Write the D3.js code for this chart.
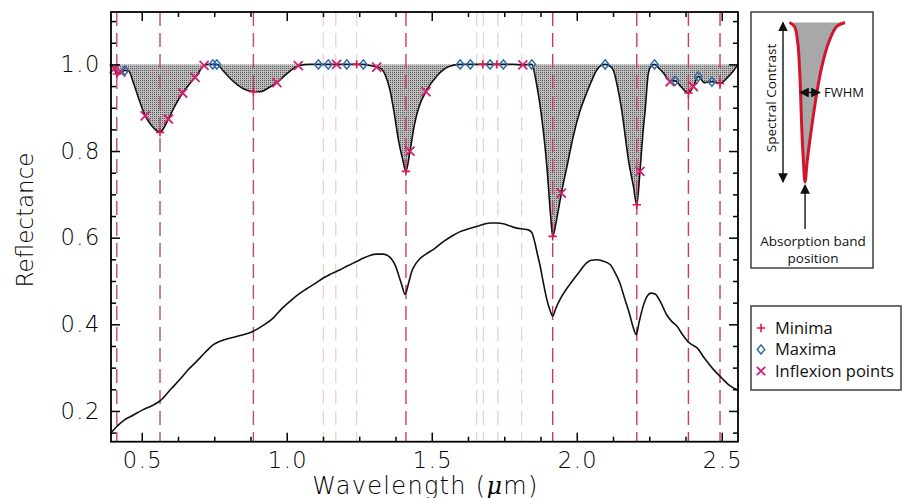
<!DOCTYPE html>
<html>
<head>
<meta charset="utf-8">
<script src="https://cdn.jsdelivr.net/npm/d3@7"></script>
<style>
  body { margin: 0; background: #fff; }
  svg { display: block; }
</style>
</head>
<body>
<svg id="chart" width="919" height="498"></svg>
<script>
// continuum removed spectrum (top curve)
const crWave = [0.394, 0.405, 0.414, 0.428, 0.442, 0.455, 0.47, 0.49, 0.512, 0.535, 0.55, 0.563, 0.575, 0.592, 0.615, 0.641, 0.665, 0.684, 0.70, 0.715, 0.73, 0.745, 0.759, 0.78, 0.80, 0.83, 0.86, 0.885, 0.91, 0.935, 0.966, 1.00, 1.04, 1.08, 1.109, 1.143, 1.172, 1.207, 1.241, 1.264, 1.29, 1.31, 1.325, 1.34, 1.356, 1.37, 1.385, 1.40, 1.411, 1.425, 1.44, 1.455, 1.48, 1.52, 1.56, 1.598, 1.633, 1.676, 1.701, 1.724, 1.747, 1.78, 1.814, 1.845, 1.86, 1.874, 1.897, 1.91, 1.917, 1.93, 1.947, 1.968, 1.988, 2.01, 2.034, 2.05, 2.069, 2.085, 2.098, 2.112, 2.126, 2.14, 2.155, 2.168, 2.178, 2.195, 2.207, 2.218, 2.228, 2.236, 2.247, 2.258, 2.268, 2.285, 2.299, 2.322, 2.339, 2.36, 2.385, 2.402, 2.419, 2.44, 2.466, 2.494, 2.52, 2.54, 2.556];
const crValue = [1.0, 0.99, 0.978, 0.982, 0.986, 0.985, 0.96, 0.92, 0.881, 0.858, 0.848, 0.843, 0.852, 0.874, 0.905, 0.934, 0.955, 0.970, 0.985, 0.998, 1.0, 1.0, 1.0, 0.986, 0.971, 0.953, 0.941, 0.937, 0.937, 0.945, 0.958, 0.978, 0.997, 1.0, 1.0, 1.0, 1.0, 1.0, 1.0, 1.0, 0.997, 0.994, 0.99, 0.975, 0.941, 0.89, 0.826, 0.78, 0.753, 0.80, 0.86, 0.90, 0.937, 0.975, 0.995, 1.0, 1.0, 1.0, 1.0, 1.0, 1.0, 1.0, 0.999, 1.0, 0.96, 0.903, 0.764, 0.65, 0.603, 0.64, 0.703, 0.77, 0.834, 0.89, 0.934, 0.96, 0.987, 0.998, 1.0, 0.997, 0.987, 0.95, 0.895, 0.83, 0.78, 0.72, 0.676, 0.753, 0.84, 0.895, 0.98, 0.997, 1.0, 0.99, 0.98, 0.962, 0.962, 0.948, 0.934, 0.949, 0.972, 0.958, 0.960, 0.956, 0.97, 0.985, 1.0];

// measured reflectance (lower curve)
const rawWave = [0.394, 0.42, 0.442, 0.47, 0.505, 0.535, 0.563, 0.60, 0.632, 0.66, 0.69, 0.72, 0.747, 0.77, 0.793, 0.839, 0.885, 0.92, 0.954, 0.98, 1.011, 1.04, 1.069, 1.10, 1.126, 1.155, 1.184, 1.21, 1.241, 1.265, 1.287, 1.31, 1.333, 1.35, 1.362, 1.375, 1.385, 1.397, 1.408, 1.42, 1.431, 1.445, 1.46, 1.48, 1.506, 1.54, 1.57, 1.598, 1.625, 1.655, 1.68, 1.701, 1.725, 1.747, 1.77, 1.793, 1.815, 1.833, 1.845, 1.855, 1.865, 1.874, 1.885, 1.897, 1.908, 1.917, 1.928, 1.942, 1.965, 1.988, 2.01, 2.034, 2.05, 2.069, 2.09, 2.115, 2.13, 2.149, 2.165, 2.184, 2.195, 2.205, 2.215, 2.229, 2.242, 2.256, 2.27, 2.29, 2.31, 2.33, 2.345, 2.365, 2.385, 2.40, 2.414, 2.44, 2.471, 2.50, 2.523, 2.556];
const rawValue = [0.150, 0.168, 0.180, 0.190, 0.203, 0.212, 0.223, 0.250, 0.273, 0.295, 0.315, 0.336, 0.353, 0.361, 0.366, 0.374, 0.384, 0.398, 0.415, 0.434, 0.453, 0.469, 0.482, 0.495, 0.507, 0.517, 0.526, 0.535, 0.545, 0.553, 0.559, 0.562, 0.562, 0.558, 0.550, 0.535, 0.515, 0.490, 0.469, 0.495, 0.522, 0.540, 0.552, 0.562, 0.573, 0.591, 0.604, 0.614, 0.620, 0.626, 0.631, 0.634, 0.634, 0.632, 0.627, 0.622, 0.620, 0.618, 0.612, 0.590, 0.560, 0.534, 0.495, 0.457, 0.432, 0.419, 0.437, 0.457, 0.482, 0.503, 0.522, 0.542, 0.548, 0.549, 0.546, 0.538, 0.522, 0.495, 0.460, 0.419, 0.392, 0.376, 0.405, 0.442, 0.464, 0.472, 0.470, 0.450, 0.422, 0.405, 0.396, 0.376, 0.359, 0.352, 0.346, 0.322, 0.296, 0.276, 0.261, 0.248];

// detected features on the continuum removed curve
const minimaWave = [0.414, 0.563, 0.885, 1.241, 1.411, 1.676, 1.724, 1.917, 2.207, 2.385, 2.494];
const minimaValue = [0.978, 0.843, 0.937, 1.0, 0.753, 1.0, 1.0, 0.603, 0.676, 0.934, 0.956];
const maximaWave = [0.442, 0.745, 0.759, 1.109, 1.143, 1.207, 1.264, 1.598, 1.633, 1.701, 1.747, 1.845, 2.098, 2.268, 2.339, 2.419, 2.466];
const maximaValue = [0.986, 1.0, 1.0, 1.0, 1.0, 1.0, 1.0, 1.0, 1.0, 1.0, 1.0, 1.0, 1.0, 1.0, 0.962, 0.972, 0.960];
const inflexWave = [0.405, 0.428, 0.512, 0.592, 0.641, 0.684, 0.715, 0.966, 1.04, 1.172, 1.31, 1.425, 1.48, 1.814, 1.947, 2.218, 2.322, 2.402];
const inflexValue = [0.99, 0.982, 0.881, 0.874, 0.934, 0.970, 0.998, 0.958, 0.997, 1.0, 0.994, 0.80, 0.937, 0.999, 0.703, 0.753, 0.960, 0.949];

// band position markers
const bandLines = [0.414, 0.563, 0.885, 1.411, 1.917, 2.207, 2.385, 2.494];
const weakLines = [1.126, 1.169, 1.241, 1.655, 1.678, 1.728, 1.81];

const xMajor = [0.5, 1.0, 1.5, 2.0, 2.5];
const yMajor = [0.2, 0.4, 0.6, 0.8, 1.0];
const legendLabels = ['Minima', 'Maxima', 'Inflexion points'];

// inset sketch: band profile, u across (0..1), v down (0 = continuum, 1 = band bottom)
const insetLeftU = [0.0, 0.09, 0.15, 0.18, 0.20, 0.22, 0.25, 0.28];
const insetRightU = [1.0, 0.85, 0.70, 0.58, 0.49, 0.40, 0.32, 0.28];
const insetV = [0.0, 0.025, 0.13, 0.28, 0.445, 0.655, 0.865, 1.0];

const svg = d3.select('#chart');
svg.append('rect').attr('width', 919).attr('height', 498).attr('fill', '#fff');

const plotLeft = 111, plotRight = 738, plotTop = 12, plotBottom = 441.7;
const x = d3.scaleLinear().domain([0.394, 2.556]).range([plotLeft, plotRight]);
const y = d3.scaleLinear().domain([0.129, 1.121]).range([plotBottom, plotTop]);

const defs = svg.append('defs');
defs.append('clipPath').attr('id', 'plotclip')
    .append('rect').attr('x', plotLeft).attr('y', plotTop)
    .attr('width', plotRight - plotLeft).attr('height', plotBottom - plotTop);
const pat = defs.append('pattern').attr('id', 'stipple')
    .attr('width', 2).attr('height', 2).attr('patternUnits', 'userSpaceOnUse');
pat.append('rect').attr('width', 2).attr('height', 2).attr('fill', '#bdbdbd');
pat.append('rect').attr('width', 1).attr('height', 1).attr('fill', '#5a5a5a');

const plot = svg.append('g').attr('clip-path', 'url(#plotclip)');

const crData = crWave.map((w, i) => ({ w, v: crValue[i] }));
const rawData = rawWave.map((w, i) => ({ w, v: rawValue[i] }));

plot.append('path')
    .datum(crData)
    .attr('fill', 'url(#stipple)')
    .attr('d', d3.area().curve(d3.curveMonotoneX).x(d => x(d.w)).y0(y(1.0)).y1(d => y(d.v)));

plot.selectAll('line.weak').data(weakLines).join('line')
    .attr('class', 'weak')
    .attr('x1', d => x(d)).attr('x2', d => x(d))
    .attr('y1', plotTop).attr('y2', plotBottom)
    .attr('stroke', '#ecd3c9').attr('stroke-width', 1.3)
    .attr('stroke-dasharray', '14,7');

plot.selectAll('line.band').data(bandLines).join('line')
    .attr('class', 'band')
    .attr('x1', d => x(d)).attr('x2', d => x(d))
    .attr('y1', plotTop).attr('y2', plotBottom)
    .attr('stroke', d => d < 1 ? '#b94c6a' : '#d0395f').attr('stroke-width', 1.4)
    .attr('stroke-dasharray', '14,7');

const line = d3.line().curve(d3.curveMonotoneX).x(d => x(d.w)).y(d => y(d.v));
plot.append('path').datum(crData).attr('fill', 'none').attr('stroke', '#111').attr('stroke-width', 1.6).attr('d', line);
plot.append('path').datum(rawData).attr('fill', 'none').attr('stroke', '#111').attr('stroke-width', 1.6).attr('d', line);

// markers
function drawPlus(g, cx, cy, s, color) {
    g.append('path')
        .attr('d', `M${cx - s},${cy}H${cx + s}M${cx},${cy - s}V${cy + s}`)
        .attr('stroke', color).attr('stroke-width', 1.6).attr('fill', 'none');
}
function drawCross(g, cx, cy, s, color) {
    g.append('path')
        .attr('d', `M${cx - s},${cy - s}L${cx + s},${cy + s}M${cx - s},${cy + s}L${cx + s},${cy - s}`)
        .attr('stroke', color).attr('stroke-width', 1.8).attr('fill', 'none');
}
function drawDiamond(g, cx, cy, s, color) {
    g.append('path')
        .attr('d', `M${cx},${cy - s * 1.2}L${cx + s},${cy}L${cx},${cy + s * 1.2}L${cx - s},${cy}Z`)
        .attr('stroke', color).attr('stroke-width', 1.5).attr('fill', 'none');
}
const markers = svg.append('g');
const minColor = '#d81b4f', maxColor = '#2f6ead', infColor = '#d3206f';
inflexWave.forEach((w, i) => drawCross(markers, x(w), y(inflexValue[i]), 4.5, infColor));
maximaWave.forEach((w, i) => drawDiamond(markers, x(w), y(maximaValue[i]), 3.8, maxColor));
minimaWave.forEach((w, i) => drawPlus(markers, x(w), y(minimaValue[i]), 4.2, minColor));

// axes
const axisFont = '"DejaVu Sans", sans-serif';
function styleAxis(g) {
    g.select('.domain').remove();
    g.selectAll('.tick line').attr('stroke', '#000').attr('stroke-width', 1.5);
    g.selectAll('.tick text').attr('font-family', axisFont).attr('font-weight', 200)
        .attr('font-size', 22.5).attr('letter-spacing', 1.5).attr('fill', '#000');
}
const xMinor = d3.range(0.375, 2.56, 0.125).filter(v => v >= 0.394 && !xMajor.some(m => Math.abs(m - v) < 1e-6));
const yMinor = d3.range(0.15, 1.12, 0.05).filter(v => !yMajor.some(m => Math.abs(m - v) < 1e-6));

svg.append('g').attr('transform', `translate(0,${plotBottom})`)
    .call(d3.axisBottom(x).tickValues(xMajor).tickFormat(d3.format('.1f')).tickSize(-9).tickPadding(10)).call(styleAxis);
svg.append('g').attr('transform', `translate(0,${plotBottom})`)
    .call(d3.axisBottom(x).tickValues(xMinor).tickFormat('').tickSize(-5)).call(styleAxis);
svg.append('g').attr('transform', `translate(0,${plotTop})`)
    .call(d3.axisTop(x).tickValues(xMajor).tickFormat('').tickSize(-9)).call(styleAxis);
svg.append('g').attr('transform', `translate(0,${plotTop})`)
    .call(d3.axisTop(x).tickValues(xMinor).tickFormat('').tickSize(-5)).call(styleAxis);
svg.append('g').attr('transform', `translate(${plotLeft},0)`)
    .call(d3.axisLeft(y).tickValues(yMajor).tickFormat(d3.format('.1f')).tickSize(-9).tickPadding(11)).call(styleAxis);
svg.append('g').attr('transform', `translate(${plotLeft},0)`)
    .call(d3.axisLeft(y).tickValues(yMinor).tickFormat('').tickSize(-5)).call(styleAxis);
svg.append('g').attr('transform', `translate(${plotRight},0)`)
    .call(d3.axisRight(y).tickValues(yMajor).tickFormat('').tickSize(-9)).call(styleAxis);
svg.append('g').attr('transform', `translate(${plotRight},0)`)
    .call(d3.axisRight(y).tickValues(yMinor).tickFormat('').tickSize(-5)).call(styleAxis);
// keep the bottom labels centred on their ticks despite letter spacing
svg.selectAll('.tick text').attr('dx', function () {
    return d3.select(this).attr('text-anchor') === 'end' ? null : '0.75';
});

svg.append('rect')
    .attr('x', plotLeft).attr('y', plotTop)
    .attr('width', plotRight - plotLeft).attr('height', plotBottom - plotTop)
    .attr('fill', 'none').attr('stroke', '#000').attr('stroke-width', 1.8);

const xlab = svg.append('text')
    .attr('x', (plotLeft + plotRight) / 2 + 1).attr('y', 493.5)
    .attr('text-anchor', 'middle')
    .attr('font-family', axisFont).attr('font-weight', 200).attr('font-size', 24)
    .attr('letter-spacing', 1.3).attr('fill', '#000');
xlab.append('tspan').text('Wavelength (');
xlab.append('tspan').attr('font-style', 'italic').attr('font-family', '"DejaVu Serif", serif').text('μ');
xlab.append('tspan').text('m)');

svg.append('text')
    .attr('transform', 'translate(33,220) rotate(-90)')
    .attr('text-anchor', 'middle')
    .attr('font-family', axisFont).attr('font-weight', 200).attr('font-size', 23).attr('fill', '#000')
    .text('Reflectance');

// legend
const legendFont = '"Open Sans", "Noto Sans", sans-serif';
const lg = svg.append('g');
lg.append('rect').attr('x', 751).attr('y', 306).attr('width', 150).attr('height', 84)
    .attr('fill', '#fff').attr('stroke', '#222').attr('stroke-width', 1.3);
legendLabels.forEach((t, i) => {
    const cy = 328 + i * 21.5;
    if (i === 0) drawPlus(lg, 761, cy, 4.2, minColor);
    if (i === 1) drawDiamond(lg, 761, cy, 3.8, maxColor);
    if (i === 2) drawCross(lg, 761, cy, 4.2, infColor);
    lg.append('text').attr('x', 775).attr('y', cy).attr('dy', '0.35em')
        .attr('font-family', legendFont).attr('font-size', 16.5).attr('fill', '#111').text(t);
});

// inset sketch
const ins = svg.append('g');
ins.append('rect').attr('x', 751).attr('y', 12).attr('width', 122).attr('height', 256)
    .attr('fill', '#fff').attr('stroke', '#222').attr('stroke-width', 1.3);
const iu = d3.scaleLinear().domain([0, 1]).range([789.5, 845]);
const iv = d3.scaleLinear().domain([0, 1]).range([22.5, 182]);
const leftSide = insetLeftU.map((u, i) => [iu(u), iv(insetV[i])]);
const rightSide = insetRightU.map((u, i) => [iu(u), iv(insetV[i])]);
const ishape = d3.line().curve(d3.curveCatmullRom);
ins.append('path')
    .attr('d', ishape(leftSide.concat(rightSide.slice().reverse())) + 'Z')
    .attr('fill', '#a8a8a8');
ins.append('path')
    .attr('d', ishape(leftSide.concat(rightSide.slice(0, -1).reverse())))
    .attr('fill', 'none').attr('stroke', '#d3142e').attr('stroke-width', 3);

defs.append('marker').attr('id', 'arr').attr('viewBox', '0 0 10 10')
    .attr('refX', 9).attr('refY', 5).attr('markerWidth', 7).attr('markerHeight', 7)
    .attr('orient', 'auto-start-reverse')
    .append('path').attr('d', 'M0,0L10,5L0,10Z').attr('fill', '#111');

ins.append('line').attr('x1', 783).attr('x2', 783).attr('y1', iv(0)).attr('y2', iv(1))
    .attr('stroke', '#111').attr('stroke-width', 1.4)
    .attr('marker-start', 'url(#arr)').attr('marker-end', 'url(#arr)');
ins.append('line').attr('x1', 800).attr('x2', 820).attr('y1', 92.5).attr('y2', 92.5)
    .attr('stroke', '#111').attr('stroke-width', 1.4)
    .attr('marker-start', 'url(#arr)').attr('marker-end', 'url(#arr)');
ins.append('line').attr('x1', iu(0.28)).attr('x2', iu(0.28)).attr('y1', 229).attr('y2', 185)
    .attr('stroke', '#111').attr('stroke-width', 1.4)
    .attr('marker-end', 'url(#arr)');

const insFont = { family: legendFont, size: 13.5 };
ins.append('text').attr('transform', 'translate(771,98) rotate(-90)').attr('dy', '0.35em')
    .attr('text-anchor', 'middle').attr('font-family', insFont.family).attr('font-size', insFont.size)
    .attr('fill', '#111').text('Spectral Contrast');
ins.append('text').attr('x', 824).attr('y', 92.5).attr('dy', '0.35em')
    .attr('font-family', insFont.family).attr('font-size', 13).attr('fill', '#111').text('FWHM');
ins.append('text').attr('x', 813).attr('y', 241.5).attr('dy', '0.35em').attr('text-anchor', 'middle')
    .attr('font-family', insFont.family).attr('font-size', insFont.size).attr('fill', '#111').text('Absorption band');
ins.append('text').attr('x', 813).attr('y', 258).attr('dy', '0.35em').attr('text-anchor', 'middle')
    .attr('font-family', insFont.family).attr('font-size', insFont.size).attr('fill', '#111').text('position');
</script>
</body>
</html>
